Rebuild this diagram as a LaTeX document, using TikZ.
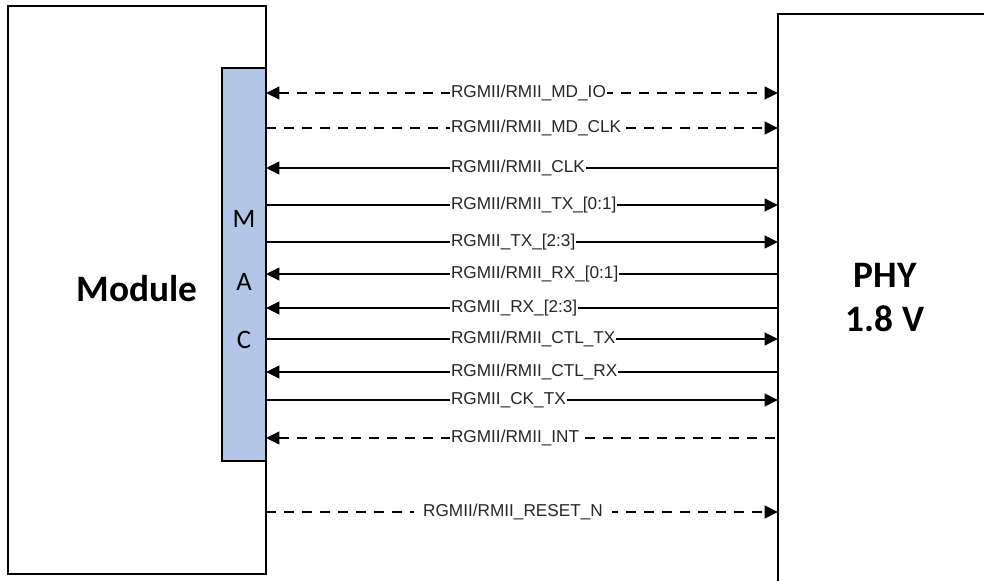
\documentclass[tikz,border=0pt]{standalone}
\usepackage{fontspec}
\setmainfont{Liberation Sans}
\newfontfamily\calfont{Carlito}
\usetikzlibrary{arrows.meta,fit}
\definecolor{macblue}{HTML}{B4C6E7}
\definecolor{lblgray}{HTML}{262626}
\tikzset{
  boxline/.style={draw=black, line width=1.4pt, inner sep=0pt},
  sig/.style={draw=black, line width=1.4pt},
  dsh/.style={dash pattern=on 7.5pt off 6pt},
  tipR/.style={-{Triangle[length=10pt,width=9.5pt]}},
  tipL/.style={{Triangle[length=10pt,width=9.5pt]}-},
  tipB/.style={{Triangle[length=10pt,width=9.5pt]}-{Triangle[length=10pt,width=9.5pt]}},
  lab/.style={fill=white, text=lblgray, inner xsep=0.6pt, inner ysep=1pt,
    font=\fontsize{12.9}{14}\selectfont, text height=0.72em, text depth=0pt, anchor=west},
  bigtxt/.style={font=\calfont\bfseries\fontsize{28}{33}\selectfont, align=center},
  mactxt/.style={font=\calfont\fontsize{20}{22}\selectfont}
}
\newcommand\sigline[4]{%
  \path (266,#2) coordinate (m#1) (778,#2) coordinate (p#1);
  \draw[sig,#4] (m#1) -- (p#1);
  \node[lab] (l#1) at (450,#2) {#3};
}
\begin{document}
\begin{tikzpicture}[x=0.75pt,y=-0.75pt]
\useasboundingbox (0,0) rectangle (984,581);
\node[boxline, fit={(8,6) (266,574)}] (module) {};
\node[boxline, fill=macblue, fit={(222,68) (266,461)}] (mac) {};
\node[boxline, fit={(778,14) (1010,600)}] (phy) {};

\node[bigtxt] (modtxt) at (137,289) {Module};
\node[bigtxt] (phytxt) at (885,298) {PHY\\1.8 V};
\node[mactxt] (macM) at (244,219) {M};
\node[mactxt] (macA) at (244,282) {A};
\node[mactxt] (macC) at (244,340) {C};

\sigline{a}{93}{RGMII/RMII\_MD\_IO}{dsh,tipB}
\sigline{b}{128}{RGMII/RMII\_MD\_CLK}{dsh,tipR}
\sigline{c}{168}{RGMII/RMII\_CLK}{tipL}
\sigline{d}{205}{RGMII/RMII\_TX\_[0:1]}{tipR}
\sigline{e}{242}{RGMII\_TX\_[2:3]}{tipR}
\sigline{f}{274}{RGMII/RMII\_RX\_[0:1]}{tipL}
\sigline{g}{308}{RGMII\_RX\_[2:3]}{tipL}
\sigline{h}{339}{RGMII/RMII\_CTL\_TX}{tipR}
\sigline{i}{372}{RGMII/RMII\_CTL\_RX}{tipL}
\sigline{j}{400}{RGMII\_CK\_TX}{tipR}
\sigline{k}{438}{RGMII/RMII\_INT}{dsh,tipL}

\path (266,512) coordinate (mr) (778,512) coordinate (pr);
\draw[sig,dsh,tipR] (mr) -- (pr);
\node[lab, anchor=center, inner xsep=7pt] (lr) at (513,512) {RGMII/RMII\_RESET\_N};
\end{tikzpicture}
\end{document}
